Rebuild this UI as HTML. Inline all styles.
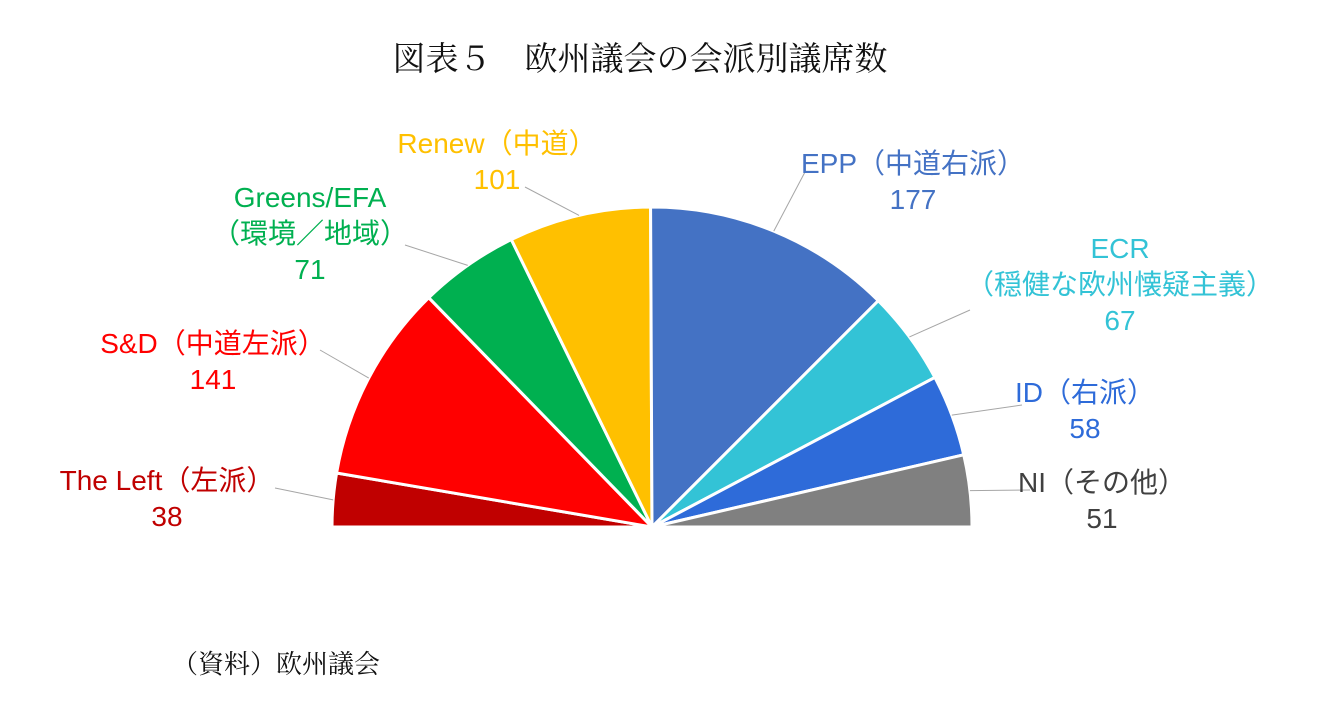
<!DOCTYPE html>
<html><head><meta charset="utf-8">
<style>
html,body{margin:0;padding:0;background:#fff;}
body{width:1342px;height:719px;overflow:hidden;position:relative;font-family:"Liberation Sans","Noto Sans CJK JP",sans-serif;}
#title{position:absolute;left:0;width:1280px;top:33px;text-align:center;font-family:"Liberation Serif","Noto Serif CJK SC",serif;font-size:33px;color:#111;}
#source{position:absolute;left:172px;top:644px;font-family:"Liberation Serif","Noto Serif CJK SC",serif;font-size:26px;color:#111;}
svg{position:absolute;left:0;top:0;}
</style></head>
<body>
<div id="title">図表５　欧州議会の会派別議席数</div>
<svg id="chart" width="1342" height="719"></svg>
<div id="source">（資料）欧州議会</div>
<script>
const groups = ["The Left（左派）","S&D（中道左派）","Greens/EFA","Renew（中道）","EPP（中道右派）","ECR","ID（右派）","NI（その他）"];
const seats = [38,141,71,101,177,67,58,51];
const sliceColors = ["#c00000","#ff0000","#00b050","#ffc000","#4472c4","#33c3d6","#2e6bd9","#808080"];
const textColors = ["#c00000","#ff0000","#00b050","#ffc000","#4472c4","#33c3d6","#2e6bd9","#404040"];
const subLabels = ["","","（環境／地域）","","","（穏健な欧州懐疑主義）","",""];
const names = ["the-left","s-and-d","greens-efa","renew","epp","ecr","id","ni"];
// label layout (presentation only)
const labelX = [167,213,310,497,913,1120,1085,1102];
const labelY = [480,343,197,143,163,248,392,482];
const anchorX = [275,320,405,525,805,970,1022,1030];
const anchorY = [488,350,245,187,172,310,405,490];

const svg = document.getElementById('chart');
const NS = "http://www.w3.org/2000/svg";
const cx = 652, cy = 527, R = 320;
const total = seats.reduce((a,b)=>a+b,0);
function ang(v){ return Math.PI - v/total*Math.PI; }
function pt(a,r){ return [cx + r*Math.cos(a), cy - r*Math.sin(a)]; }
let cum = 0;
seats.forEach((v,i)=>{
  const a0 = ang(cum), a1 = ang(cum+v), am = ang(cum+v/2);
  cum += v;
  const p0 = pt(a0,R), p1 = pt(a1,R);
  const path = document.createElementNS(NS,'path');
  path.setAttribute('d',`M${cx},${cy} L${p0[0]},${p0[1]} A${R},${R} 0 0 1 ${p1[0]},${p1[1]} Z`);
  path.setAttribute('fill',sliceColors[i]);
  path.setAttribute('stroke','#fff');
  path.setAttribute('stroke-width','3');
  
  
  svg.appendChild(path);
  const pm = pt(am,R);
  const line = document.createElementNS(NS,'line');
  line.setAttribute('x1',pm[0]);line.setAttribute('y1',pm[1]);
  line.setAttribute('x2',anchorX[i]);line.setAttribute('y2',anchorY[i]);
  line.setAttribute('stroke','#a6a6a6');line.setAttribute('stroke-width','1');
  
  
  svg.appendChild(line);
  const lines = [groups[i]];
  if(subLabels[i]) lines.push(subLabels[i]);
  lines.push(String(v));
  const t = document.createElementNS(NS,'text');
  t.setAttribute('text-anchor','middle');
  t.setAttribute('fill',textColors[i]);
  t.setAttribute('font-size','28');
  t.setAttribute('font-family','"Liberation Sans","Noto Sans CJK JP",sans-serif');
  
  
  lines.forEach((s,k)=>{
    const ts = document.createElementNS(NS,'tspan');
    ts.setAttribute('x',labelX[i]);
    ts.setAttribute('y',labelY[i]+10+k*36);
    ts.textContent = s;
    t.appendChild(ts);
  });
  svg.appendChild(t);
});
</script>
</body></html>
